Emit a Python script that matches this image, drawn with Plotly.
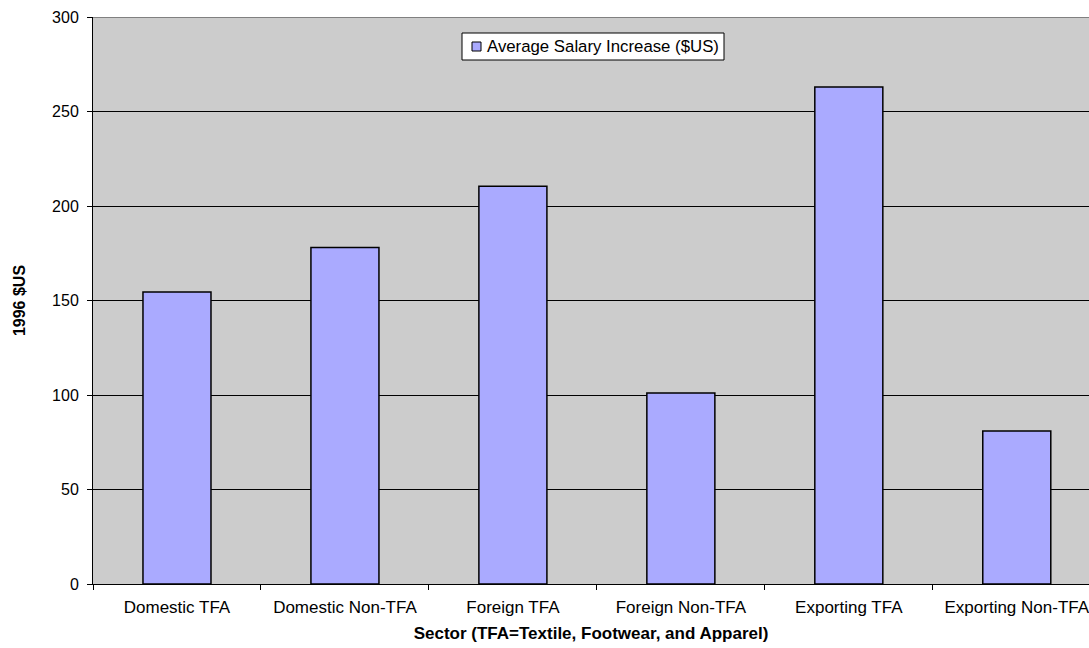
import plotly.graph_objects as go

sectors = ["Domestic TFA", "Domestic Non-TFA", "Foreign TFA",
           "Foreign Non-TFA", "Exporting TFA", "Exporting Non-TFA"]
salary_increase = [154.5, 178.0, 210.5, 101.0, 263.0, 81.0]
y_ticks = [0, 50, 100, 150, 200, 250, 300]
series_name = "Average Salary Increase ($US)"
bar_color = "#AAAAFF"

font_family = "Liberation Sans, Arial, sans-serif"

W, H = 1089, 648
M_L, M_R, M_T, M_B = 93, 0, 17, 64
plot_w = W - M_L - M_R
plot_h = H - M_T - M_B


def px_x(px):
    return (px - M_L) / plot_w


def px_y(py):
    return (H - M_B - py) / plot_h


fig = go.Figure()
fig.add_trace(go.Bar(
    x=sectors,
    y=salary_increase,
    name=series_name,
    marker=dict(color=bar_color, line=dict(color="#000000", width=1.5)),
    width=0.405,
    showlegend=False,
))

fig.update_layout(
    width=W, height=H,
    margin=dict(l=M_L, r=M_R, t=M_T, b=M_B),
    paper_bgcolor="#FFFFFF",
    plot_bgcolor="#CCCCCC",
    font=dict(family=font_family, size=17, color="#000000"),
)

fig.update_xaxes(
    range=[-0.5, 5.43],
    tickson="boundaries",
    ticks="outside", ticklen=5, tickcolor="#000000",
    ticklabelstandoff=8,
    showline=True, linecolor="#000000", linewidth=1,
    showgrid=False,
    tickfont=dict(size=17),
    title=dict(text="<b>Sector (TFA=Textile, Footwear, and Apparel)</b>",
               font=dict(size=17), standoff=10),
)

fig.update_yaxes(
    range=[0, 300],
    tickvals=y_ticks,
    ticks="outside", ticklen=5, tickcolor="#000000",
    ticklabelstandoff=5,
    showline=True, linecolor="#000000", linewidth=1,
    showgrid=True, gridcolor="#000000", gridwidth=1,
    zeroline=False,
    tickfont=dict(size=16),
    title=dict(text="<b>1996 $US</b>", font=dict(size=16), standoff=22),
)

# grey top border of the plotting area
fig.add_shape(type="line", xref="paper", yref="y", x0=0, x1=1, y0=300, y1=300,
              line=dict(color="#808080", width=2), layer="above")

# legend box with swatch and label
fig.add_shape(type="rect", xref="paper", yref="paper",
              x0=px_x(462), x1=px_x(724), y0=px_y(60), y1=px_y(33),
              fillcolor="#FFFFFF", line=dict(color="#000000", width=1),
              layer="above")
fig.add_shape(type="rect", xref="paper", yref="paper",
              x0=px_x(472), x1=px_x(481), y0=px_y(51), y1=px_y(42),
              fillcolor=bar_color, line=dict(color="#000000", width=1),
              layer="above")
fig.add_annotation(xref="paper", yref="paper", x=px_x(485), y=px_y(46.5),
                   xanchor="left", yanchor="middle", showarrow=False,
                   text=series_name, font=dict(size=16.8))

fig.write_html("out.html")
